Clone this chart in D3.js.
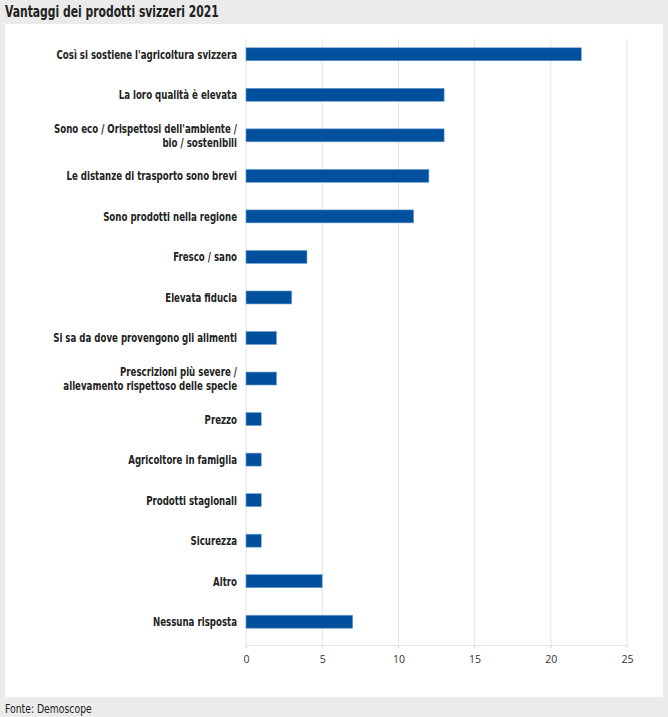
<!DOCTYPE html>
<html><head><meta charset="utf-8">
<script src="https://cdn.jsdelivr.net/npm/d3@7"></script>
<style>
html,body{margin:0;padding:0;background:#ebebeb;}
svg{display:block;}
</style></head>
<body>
<svg id="chart" width="668" height="717"></svg>
<script>
const categories = [
  ["Così si sostiene l'agricoltura svizzera"],
  ["La loro qualità è elevata"],
  ["Sono eco / Orispettosi dell'ambiente /", "bio / sostenibili"],
  ["Le distanze di trasporto sono brevi"],
  ["Sono prodotti nella regione"],
  ["Fresco / sano"],
  ["Elevata fiducia"],
  ["Si sa da dove provengono gli alimenti"],
  ["Prescrizioni più severe /", "allevamento rispettoso delle specie"],
  ["Prezzo"],
  ["Agricoltore in famiglia"],
  ["Prodotti stagionali"],
  ["Sicurezza"],
  ["Altro"],
  ["Nessuna risposta"]
];
const values = [22, 13, 13, 12, 11, 4, 3, 2, 2, 1, 1, 1, 1, 5, 7];
const xTicks = [0, 5, 10, 15, 20, 25];
const title = "Vantaggi dei prodotti svizzeri 2021";
const source = "Fonte: Demoscope";

const font = "'DejaVu Sans Condensed',sans-serif";
const tickFont = "'Open Sans','DejaVu Sans',sans-serif";
const svg = d3.select("#chart");

svg.append("rect").attr("x",0).attr("y",0).attr("width",668).attr("height",717).attr("fill","#ebebeb");
svg.append("rect").attr("x",5).attr("y",24).attr("width",658).attr("height",673).attr("fill","#ffffff");

svg.append("g").attr("transform","translate(5,17) scale(0.8,1)")
  .append("text").attr("x",0).attr("y",0).text(title)
  .attr("font-family",font).attr("font-weight","bold").attr("font-size",15).attr("fill","#222");
svg.append("g").attr("transform","translate(5,713) scale(0.86,1)")
  .append("text").attr("x",0).attr("y",0).text(source)
  .attr("font-family",font).attr("font-size",12).attr("fill","#222");

const x = d3.scaleLinear().domain([0,25]).range([246,627]);
const idx = d3.range(categories.length);
const y = d3.scaleBand().domain(idx).range([34,642]).paddingInner(0.68).paddingOuter(0.34);

// gridlines
svg.append("g").selectAll("line").data(xTicks).join("line")
  .attr("x1",d=>x(d)).attr("x2",d=>x(d)).attr("y1",39).attr("y2",648)
  .attr("stroke","#e4e4e4").attr("stroke-width",1);

// x axis
const ax = svg.append("g").attr("transform","translate(0,645)")
  .call(d3.axisBottom(x).tickValues(xTicks).tickSize(3).tickPadding(8));
ax.select(".domain").attr("stroke","#e4e4e4");
ax.selectAll(".tick line").attr("stroke","#e4e4e4");
ax.selectAll(".tick text").attr("font-family",tickFont).attr("font-size",10.5).attr("fill","#333");

// bars
svg.append("g").selectAll("rect").data(idx).join("rect")
  .attr("x",x(0)).attr("y",i=>y(i)).attr("height",y.bandwidth())
  .attr("width",i=>x(values[i])-x(0))
  .attr("fill","#00509e").attr("stroke","#6e9fd0").attr("stroke-width",0.6);

// labels
const labG = svg.append("g").attr("transform","translate(237,0) scale(0.8,1)");
const lab = labG.selectAll("text").data(idx).join("text")
  .attr("text-anchor","end").attr("font-family",font).attr("font-weight","bold")
  .attr("font-size",12).attr("fill","#222");
lab.each(function(i){
  const lines = categories[i];
  const cy = y(i) + y.bandwidth()/2;
  const lh = 13.5;
  const t = d3.select(this);
  lines.forEach((s,k)=>{
    t.append("tspan").attr("x",0)
      .attr("y", cy + (k - (lines.length-1)/2)*lh + 4.5)
      .text(s);
  });
});
</script>
</body></html>
